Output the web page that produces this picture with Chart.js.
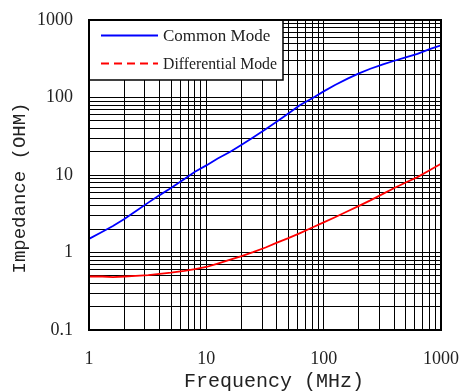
<!DOCTYPE html>
<html>
<head>
<meta charset="utf-8">
<script src="https://cdn.jsdelivr.net/npm/chart.js@4/dist/chart.umd.min.js"></script>
<style>
  html, body { margin: 0; padding: 0; background: #fff; }
  #wrap { width: 461px; height: 392px; }
</style>
</head>
<body>
<div id="wrap"><canvas id="grafico" width="461" height="392"></canvas></div>
<script>
// frecuencias leidas (MHz)
const freqs = [1, 1.3, 1.6, 2, 2.5, 3.2, 4, 5, 6.5, 8, 10, 12.5, 16, 20, 25, 32, 40, 50, 63, 80,
  100, 125, 160, 200, 250, 320, 400, 500, 630, 800, 1000];
// impedancia modo comun (ohm)
const commonMode = [1.5, 1.85, 2.2, 2.7, 3.4, 4.4, 5.5, 6.8, 8.9, 11.0, 13.3, 16.3, 20, 24.5, 30.5, 39, 49, 62, 80, 98,
  120, 145, 175, 205, 235, 268, 298, 330, 365, 420, 470];
// impedancia modo diferencial (ohm)
const diffMode = [0.49, 0.49, 0.48, 0.49, 0.5, 0.51, 0.53, 0.55, 0.58, 0.61, 0.65, 0.72, 0.81, 0.9, 1.01, 1.16, 1.34, 1.53, 1.78, 2.1,
  2.45, 2.85, 3.4, 4.0, 4.7, 5.7, 6.8, 8.0, 9.4, 11.5, 14.0];

const seriesNames = ['Common Mode', 'Differential Mode'];
const xTickLabels = [1, 10, 100, 1000];
const yTickLabels = [0.1, 1, 10, 100, 1000];
const xTitle = 'Frequency (MHz)';
const yTitle = 'Impedance (OHM)';

// lineas de rejilla 1..9 por decada
const gridValues = (from, to) => {
  const out = [];
  for (let d = from; d < to; d *= 10) {
    for (let m = 1; m <= 9; m++) out.push(m * d);
  }
  out.push(to);
  return out;
};
const xGrid = gridValues(1, 1000);
const yGrid = gridValues(0.1, 1000);

const toPoints = (ys) => freqs.map((f, i) => ({ x: f, y: ys[i] }));

const serif = 'Liberation Serif, Times New Roman, serif';
const mono = 'Liberation Mono, Courier New, monospace';

// cuadro de leyenda con borde, dentro del area
const legendBox = {
  id: 'legendBox',
  afterDatasetsDraw(chart) {
    const { ctx, chartArea } = chart;
    const x = chartArea.left, y = chartArea.top, w = 194, h = 60;
    ctx.save();
    ctx.fillStyle = '#fff';
    ctx.fillRect(x, y, w, h);
    ctx.strokeStyle = '#000';
    ctx.lineWidth = 1.5;
    ctx.strokeRect(x, y, w, h);
    ctx.font = '17px ' + serif;
    ctx.textBaseline = 'middle';
    chart.data.datasets.forEach((ds, i) => {
      const ly = y + 15.5 + i * 28;
      ctx.strokeStyle = ds.borderColor;
      ctx.lineWidth = 2;
      ctx.setLineDash(i === 1 ? [8, 5] : []);
      ctx.beginPath();
      ctx.moveTo(x + 12, ly);
      ctx.lineTo(x + 69, ly);
      ctx.stroke();
      ctx.setLineDash([]);
      ctx.fillStyle = '#222';
      ctx.fillText(ds.label, x + 74, ly + 1, w - 80);
    });
    ctx.restore();
  }
};

// marco y titulos de ejes
const frameTitles = {
  id: 'frameTitles',
  afterDraw(chart) {
    const { ctx, chartArea } = chart;
    ctx.save();
    ctx.strokeStyle = '#000';
    ctx.lineWidth = 2;
    ctx.strokeRect(chartArea.left, chartArea.top, chartArea.right - chartArea.left, chartArea.bottom - chartArea.top);
    ctx.fillStyle = '#222';
    ctx.font = '20px ' + mono;
    ctx.textAlign = 'center';
    ctx.textBaseline = 'middle';
    ctx.fillText(xTitle, 274, 382);
    ctx.translate(20, 188);
    ctx.rotate(-Math.PI / 2);
    ctx.font = '19px ' + mono;
    ctx.fillText(yTitle, 0, 0);
    ctx.restore();
  }
};

const ctx = document.getElementById('grafico').getContext('2d');
new Chart(ctx, {
  type: 'line',
  data: {
    datasets: [
      {
        label: seriesNames[0],
        data: toPoints(commonMode),
        borderColor: '#0000ff',
        borderWidth: 1.8,
        pointRadius: 0,
        tension: 0
      },
      {
        label: seriesNames[1],
        data: toPoints(diffMode),
        borderColor: '#ff0000',
        borderWidth: 1.8,
        pointRadius: 0,
        tension: 0
      }
    ]
  },
  options: {
    responsive: false,
    animation: false,
    layout: { padding: { top: 20, right: 20, left: 0, bottom: 0 } },
    plugins: {
      legend: { display: false },
      tooltip: { enabled: false }
    },
    scales: {
      x: {
        type: 'logarithmic',
        min: 1,
        max: 1000,
        afterFit: s => { s.height = 62; s.paddingLeft = 0; s.paddingRight = 0; },
        afterBuildTicks: s => { s.ticks = xGrid.map(v => ({ value: v })); },
        grid: { color: '#000', lineWidth: 1, drawTicks: false },
        border: { display: false },
        ticks: {
          autoSkip: false,
          maxRotation: 0,
          padding: 18,
          color: '#222',
          font: { family: serif, size: 18 },
          callback: v => xTickLabels.includes(v) ? String(v) : ''
        }
      },
      y: {
        type: 'logarithmic',
        min: 0.1,
        max: 1000,
        afterFit: s => { s.width = 89; s.paddingTop = 0; s.paddingBottom = 0; },
        afterBuildTicks: s => { s.ticks = yGrid.map(v => ({ value: v })); },
        grid: { color: '#000', lineWidth: 1, drawTicks: false },
        border: { display: false },
        ticks: {
          autoSkip: false,
          padding: 16,
          color: '#222',
          font: { family: serif, size: 18 },
          callback: v => yTickLabels.includes(v) ? String(v) : ''
        }
      }
    }
  },
  plugins: [legendBox, frameTitles]
});
</script>
</body>
</html>
